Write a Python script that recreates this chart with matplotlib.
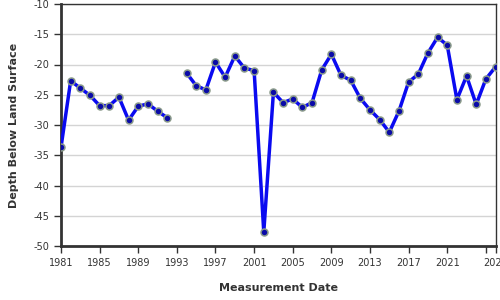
import matplotlib.pyplot as plt
import numpy as np

plt.rcParams["axes.unicode_minus"] = False
plt.rcParams["font.family"] = "DejaVu Sans"

# yearly depth readings, 1993 missing
years = np.arange(1981, 2027)
depth = [
    -33.7, -22.7, -23.9, -25.1, -26.8, -26.8, -25.4, -29.2, -26.9, -26.5,
    -27.7, -28.8, np.nan, -21.4, -23.5, -24.2, -19.6, -22.1, -18.6, -20.6,
    -21.0, -47.7, -24.6, -26.3, -25.7, -27.1, -26.3, -20.9, -18.3, -21.8,
    -22.6, -25.6, -27.5, -29.1, -31.2, -27.7, -22.9, -21.6, -18.1, -15.5,
    -16.8, -25.8, -21.9, -26.6, -22.4, -20.4,
]
xticks = [1981, 1985, 1989, 1993, 1997, 2001, 2005, 2009, 2013, 2017, 2021, 2025, 2026]
xticklabels = ["1981", "1985", "1989", "1993", "1997", "2001", "2005", "2009",
               "2013", "2017", "2021", "", "2026"]
yticks = np.arange(-50, -9, 5)

fig = plt.figure(figsize=(5, 3), dpi=100)
ax = fig.add_axes([61 / 500, 1 - 246 / 300, 435 / 500, 242 / 300])

ax.plot(years, depth, color="#0a0af0", lw=2.5, marker="o", ms=5,
        mfc="#0a0aa8", mec="#8a9a8a", mew=1.1, zorder=3)

ax.set_xlim(1981, 2026.05)
ax.set_ylim(-50, -10)
ax.set_xticks(xticks)
ax.set_xticklabels(xticklabels)
ax.set_yticks(yticks)
ax.tick_params(labelsize=7, colors="#333333", length=5, width=1)
ax.grid(axis="y", color="#d4d4d4", lw=1)
ax.set_axisbelow(True)

for side in ["left", "bottom"]:
    ax.spines[side].set_linewidth(2)
    ax.spines[side].set_color("#333333")
for side in ["top", "right"]:
    ax.spines[side].set_linewidth(1)
    ax.spines[side].set_color("#333333")

ax.set_xlabel("Measurement Date", fontsize=8, fontweight="bold", color="#333333", labelpad=11)
ax.set_ylabel("Depth Below Land Surface", fontsize=8, fontweight="bold", color="#333333", labelpad=10)

fig.savefig("out.png", dpi=100)
